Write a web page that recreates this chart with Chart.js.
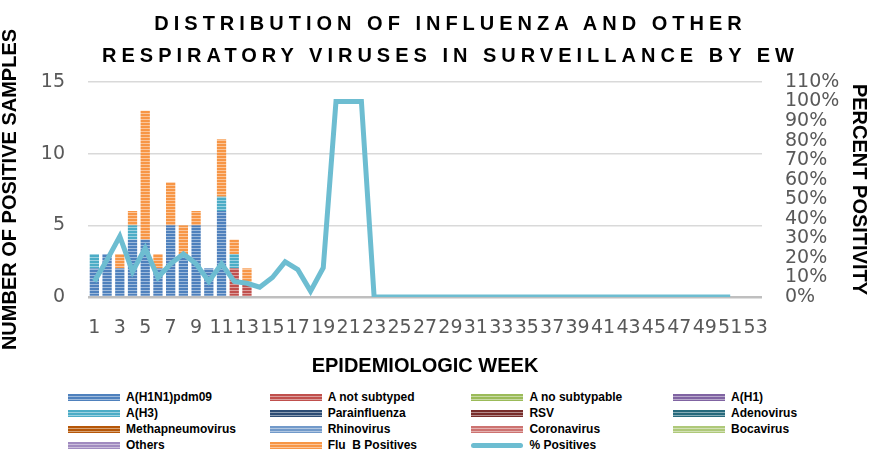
<!DOCTYPE html>
<html>
<head>
<meta charset="utf-8">
<script src="https://cdn.jsdelivr.net/npm/chart.js@4.4.1/dist/chart.umd.min.js"></script>
<style>
  html, body { margin: 0; padding: 0; background: #fff; }
  #wrap { position: relative; width: 896px; height: 458px; overflow: hidden; font-family: 'Liberation Sans', Arial, sans-serif; }
  #box { position: absolute; left: 0; top: 0; width: 896px; height: 385px; }
  #title { position: absolute; left: 0; top: 7px; width: 896px; box-sizing: border-box; padding-left: 5px;
           text-align: center; font-weight: bold; font-size: 20px; line-height: 32px; letter-spacing: 5px; color: #000; }
  .item { position: absolute; height: 16px; line-height: 16px; display: flex; align-items: center;
          font-size: 12px; font-weight: bold; white-space: pre; color: #000; }
  .sw { width: 52px; height: 7px; margin-right: 6px; flex: none; }
</style>
</head>
<body>
<div id="wrap">
  <div id="box"><canvas id="chart"></canvas></div>
  <div id="title">DISTRIBUTION OF INFLUENZA AND OTHER<br>RESPIRATORY VIRUSES IN SURVEILLANCE BY EW</div>
  <div id="legend"></div>
</div>
<script>
// semanas epidemiologicas
const weeks = ["1","2","3","4","5","6","7","8","9","10","11","12","13","14","15","16","17","18","19","20",
  "21","22","23","24","25","26","27","28","29","30","31","32","33","34","35","36","37","38","39","40",
  "41","42","43","44","45","46","47","48","49","50","51","52","53"];

// muestras positivas por semana (solo semanas con datos)
const h1n1pdm = [2, 3, 2, 4, 4, 2, 5, 3, 5, 2, 6, 0, 0];
const aNotSubtyped = [0, 0, 0, 0, 0, 0, 0, 0, 0, 0, 0, 2, 1];
const aNoSubtypable = [];
const aH1 = [];
const aH3 = [1, 0, 0, 1, 0, 0, 0, 0, 0, 0, 1, 1, 0];
const parainfluenza = [];
const rsv = [];
const adenovirus = [];
const methapneumovirus = [];
const rhinovirus = [];
const coronavirus = [];
const bocavirus = [];
const others = [];
const fluB = [0, 0, 1, 1, 9, 1, 3, 2, 1, 0, 4, 1, 1];

// % de positividad (semanas 1 a 51)
const pctPositives = [8, 19, 31, 13, 25, 10, 17, 22, 17, 8, 17, 8, 7, 5, 10, 18, 14, 3, 15, 100,
  100, 100, 0, 0, 0, 0, 0, 0, 0, 0, 0, 0, 0, 0, 0, 0, 0, 0, 0, 0,
  0, 0, 0, 0, 0, 0, 0, 0, 0, 0, 0];

const countTicks = [0, 5, 10, 15];

const FONT = "'Liberation Sans', Arial, sans-serif";
const TICK_FONT = "'DejaVu Sans', sans-serif";
const TICK_COLOR = "#595959";

function lighten(hex, amt) {
  const n = parseInt(hex.slice(1), 16);
  const r = (n >> 16) & 255, g = (n >> 8) & 255, b = n & 255;
  const m = (c) => Math.round(c + (255 - c) * amt);
  return "rgb(" + m(r) + "," + m(g) + "," + m(b) + ")";
}

// relleno con rayas horizontales tipo textura de Excel
function stripes(color) {
  const c = document.createElement("canvas");
  c.width = 4; c.height = 3;
  const g = c.getContext("2d");
  g.fillStyle = color; g.fillRect(0, 0, 4, 3);
  g.fillStyle = lighten(color, 0.45); g.fillRect(0, 2, 4, 1);
  return g.createPattern(c, "repeat");
}

const series = [
  { label: "A(H1N1)pdm09", data: h1n1pdm, color: "#4F81BD" },
  { label: "A not subtyped", data: aNotSubtyped, color: "#C0504D" },
  { label: "A no subtypable", data: aNoSubtypable, color: "#9BBB59" },
  { label: "A(H1)", data: aH1, color: "#8064A2" },
  { label: "A(H3)", data: aH3, color: "#4BACC6" },
  { label: "Parainfluenza", data: parainfluenza, color: "#2C4D75" },
  { label: "RSV", data: rsv, color: "#772C2A" },
  { label: "Adenovirus", data: adenovirus, color: "#276A7C" },
  { label: "Methapneumovirus", data: methapneumovirus, color: "#B65708" },
  { label: "Rhinovirus", data: rhinovirus, color: "#729ACA" },
  { label: "Coronavirus", data: coronavirus, color: "#CD7371" },
  { label: "Bocavirus", data: bocavirus, color: "#AFC97A" },
  { label: "Others", data: others, color: "#A18BC0" },
  { label: "Flu  B Positives", data: fluB, color: "#F79646" }
];
const lineColor = "#6DBDD1";

const datasets = series.map((s) => ({
  type: "bar",
  label: s.label,
  data: s.data,
  backgroundColor: stripes(s.color),
  borderWidth: 0,
  barPercentage: 0.73,
  categoryPercentage: 1,
  yAxisID: "y",
  order: 1
}));
datasets.push({
  type: "line",
  label: "% Positives",
  data: pctPositives,
  borderColor: lineColor,
  borderWidth: 5,
  pointRadius: 0,
  tension: 0,
  fill: false,
  yAxisID: "y1",
  order: 0
});

new Chart(document.getElementById("chart"), {
  data: { labels: weeks, datasets: datasets },
  options: {
    responsive: true,
    maintainAspectRatio: false,
    animation: false,
    layout: { padding: { top: 82, left: 0, right: 0, bottom: 0 } },
    plugins: { legend: { display: false }, tooltip: { enabled: false } },
    scales: {
      x: {
        stacked: true,
        grid: { display: false, drawTicks: false },
        border: { display: false },
        ticks: {
          autoSkip: false, maxRotation: 0, minRotation: 0, padding: 20,
          color: TICK_COLOR, font: { family: TICK_FONT, size: 19 },
          callback: function (v, i) { return i % 2 === 0 ? this.getLabelForValue(v) : ""; }
        },
        title: {
          display: true, text: "EPIDEMIOLOGIC WEEK", color: "#000",
          font: { family: FONT, size: 20, weight: "bold" }, padding: { top: 0, bottom: 7 }
        },
        afterFit: (s) => { s.height = 88; }
      },
      y: {
        stacked: true, position: "left", min: 0, max: 15,
        afterBuildTicks: (s) => { s.ticks = countTicks.map((v) => ({ value: v })); },
        grid: {
          drawTicks: false,
          color: (c) => c.tick && c.tick.value === 0 ? "#BFBFBF" : "#D9D9D9",
          lineWidth: (c) => c.tick && c.tick.value === 0 ? 2.5 : 1.5
        },
        border: { display: false },
        ticks: { padding: 23, color: TICK_COLOR, font: { family: TICK_FONT, size: 19 } },
        title: {
          display: true, text: "NUMBER OF POSITIVE SAMPLES", color: "#000",
          font: { family: FONT, size: 20, weight: "bold", lineHeight: 1 }, padding: { top: 0, bottom: 0 }
        },
        afterFit: (s) => { s.width = 88; }
      },
      y1: {
        position: "right", min: 0, max: 110,
        grid: { display: false, drawTicks: false },
        border: { display: false },
        ticks: {
          stepSize: 10, autoSkip: false, maxTicksLimit: 20, padding: 23,
          color: TICK_COLOR, font: { family: TICK_FONT, size: 19 },
          callback: (v) => v + "%"
        },
        title: {
          display: true, text: "PERCENT POSITIVITY", color: "#000",
          font: { family: FONT, size: 20, weight: "bold", lineHeight: 1 }, padding: { top: 27, bottom: 0 }
        },
        afterFit: (s) => { s.width = 134; }
      }
    }
  }
});

// leyenda en 4 columnas
const legend = document.getElementById("legend");
const legendItems = series.map((s) => ({ label: s.label, color: s.color, line: false }));
legendItems.push({ label: "% Positives", color: lineColor, line: true });
legendItems.forEach((it, i) => {
  const el = document.createElement("div");
  el.className = "item";
  el.style.left = (68 + (i % 4) * 201.7) + "px";
  el.style.top = (389.3 + Math.floor(i / 4) * 16) + "px";
  const sw = document.createElement("span");
  sw.className = "sw";
  if (it.line) {
    sw.style.height = "5px";
    sw.style.borderRadius = "3px";
    sw.style.background = it.color;
  } else {
    sw.style.background = "repeating-linear-gradient(to bottom, " + it.color + " 0px, " + it.color +
      " 2px, " + lighten(it.color, 0.45) + " 2px, " + lighten(it.color, 0.45) + " 3px)";
  }
  const tx = document.createElement("span");
  tx.textContent = it.label;
  el.appendChild(sw);
  el.appendChild(tx);
  legend.appendChild(el);
});
</script>
</body>
</html>
